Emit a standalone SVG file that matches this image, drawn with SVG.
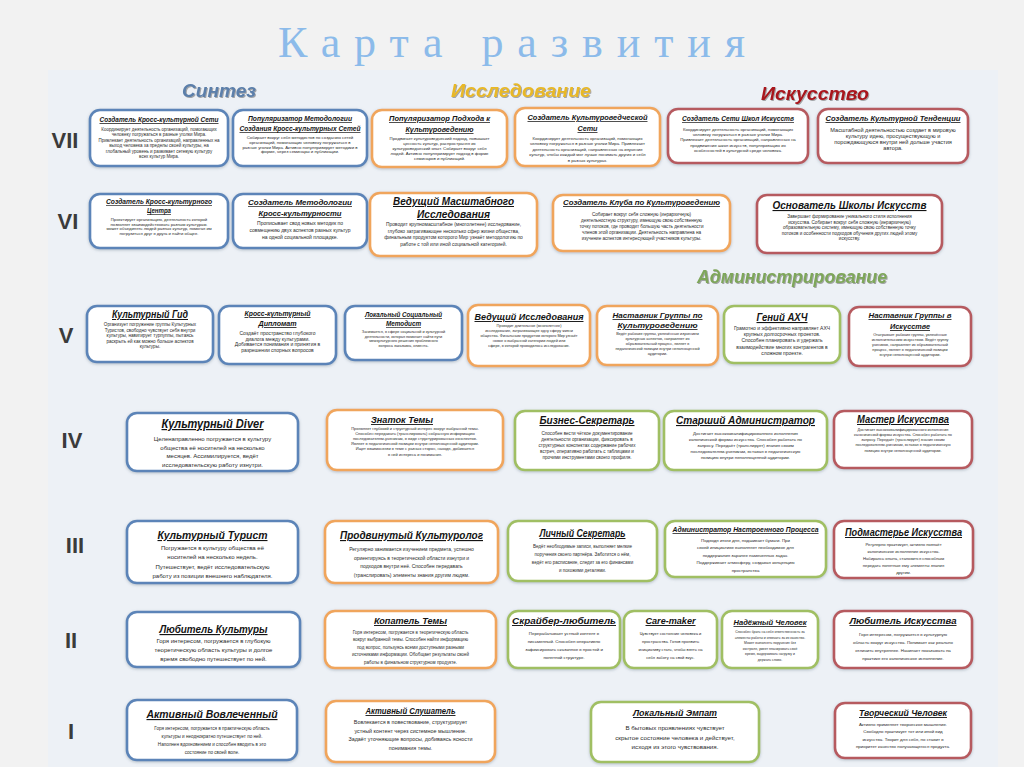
<svg xmlns="http://www.w3.org/2000/svg" width="1024" height="767" viewBox="0 0 1024 767">
<defs>
<filter id="sh" x="-10%" y="-10%" width="120%" height="130%"><feDropShadow dx="0" dy="1" stdDeviation="1.4" flood-color="#6f8090" flood-opacity="0.45"/></filter>
<filter id="hs" x="-10%" y="-20%" width="120%" height="150%"><feDropShadow dx="1" dy="1" stdDeviation="0.6" flood-color="#555" flood-opacity="0.5"/></filter>
<style>
.bx{fill:#fff;stroke-width:2.6;filter:url(#sh)}
.c1{stroke:#5b84b8}.c2{stroke:#f0a55c}.c3{stroke:#a0bf63}.c4{stroke:#b65a5f}
.tt{font-family:"Liberation Sans",Arial,sans-serif;font-style:italic;font-weight:bold;text-decoration:underline;fill:#141414;text-anchor:middle}
.bd{font-family:"Liberation Sans",Arial,sans-serif;fill:#2a2a2a;text-anchor:middle}
.rn{font-family:"Liberation Sans",Arial,sans-serif;font-weight:bold;font-size:22px;fill:#3b3b3b;text-anchor:middle}
.hd{font-family:"Liberation Sans",Arial,sans-serif;font-style:italic;font-weight:bold;text-anchor:middle;filter:url(#hs)}
</style>
</defs>
<rect x="0" y="0" width="1024" height="767" fill="#f2f2f2"/>
<rect x="48" y="70" width="950" height="697" fill="#edf1f6"/>
<text x="278" y="57" textLength="467" lengthAdjust="spacing" font-family="Liberation Serif, serif" font-size="44" fill="#8cbbea">Карта развития</text>

<g id="headers">
<text class="hd" x="219" y="97" font-size="18" fill="#5b7faa" textLength="74" lengthAdjust="spacingAndGlyphs">Синтез</text>
<text class="hd" x="521" y="97" font-size="18" fill="#e8b828" textLength="140" lengthAdjust="spacingAndGlyphs">Исследование</text>
<text class="hd" x="815" y="100" font-size="18" fill="#a8141c" textLength="108" lengthAdjust="spacingAndGlyphs">Искусство</text>
<text class="hd" x="792" y="283" font-size="18" fill="#7ea65a" textLength="190" lengthAdjust="spacingAndGlyphs">Администрирование</text>
</g>

<g id="levels">
<text class="rn" x="65" y="148">VII</text>
<text class="rn" x="68" y="229">VI</text>
<text class="rn" x="66" y="343">V</text>
<text class="rn" x="72" y="448">IV</text>
<text class="rn" x="75" y="553">III</text>
<text class="rn" x="71" y="648">II</text>
<text class="rn" x="71" y="739">I</text>
</g>

<g id="connectors"/>

<!-- Row VII -->
<g id="n-vii-1">
<rect class="bx c1" x="90" y="110" width="138" height="56" rx="10"/>
<text class="tt" x="159" y="122" font-size="7.5" textLength="119" lengthAdjust="spacingAndGlyphs">Создатель Кросс-культурной Сети</text>
<text class="bd" font-size="4.5"><tspan x="159" y="131">Координирует деятельность организаций, помогающих</tspan><tspan x="159" y="136.4">человеку погружаться в разные уголки Мира.</tspan><tspan x="159" y="141.8">Привлекает деятельность организаций, направленных на</tspan><tspan x="159" y="147.2">выход человека за пределы своей культуры, на</tspan><tspan x="159" y="152.6">глобальный уровень и развивает сетевую культуру</tspan><tspan x="159" y="158">всех культур Мира.</tspan></text>
</g>
<g id="n-vii-2">
<rect class="bx c1" x="233" y="110" width="134" height="56" rx="10"/>
<text class="tt" x="300" y="121" font-size="7" textLength="104" lengthAdjust="spacingAndGlyphs">Популяризатор Методологии</text>
<text class="tt" x="300" y="131" font-size="7" textLength="121" lengthAdjust="spacingAndGlyphs">Создания Кросс-культурных Сетей</text>
<text class="bd" font-size="4.3"><tspan x="300" y="139">Собирает вокруг себя методистов по созданию сетей</tspan><tspan x="300" y="143.8">организаций, помогающих человеку погружаться в</tspan><tspan x="300" y="148.6">разные уголки Мира. Активно популяризирует методики в</tspan><tspan x="300" y="153.4">форме, через семинары и публикации.</tspan></text>
</g>
<g id="n-vii-3">
<rect class="bx c2" x="372" y="110" width="135" height="57" rx="10"/>
<text class="tt" x="439.5" y="121" font-size="7.5" textLength="101" lengthAdjust="spacingAndGlyphs">Популяризатор Подхода к</text>
<text class="tt" x="439.5" y="132" font-size="7.5" textLength="68" lengthAdjust="spacingAndGlyphs">Культуроведению</text>
<text class="bd" font-size="4.3"><tspan x="439.5" y="140">Продвигает культуроведческий подход, повышает</tspan><tspan x="439.5" y="145">ценность культур, распространяя их</tspan><tspan x="439.5" y="150">культуроведческий опыт. Собирает вокруг себя</tspan><tspan x="439.5" y="155">людей. Активно популяризирует подход в форме</tspan><tspan x="439.5" y="160">семинаров и публикаций.</tspan></text>
</g>
<g id="n-vii-4">
<rect class="bx c2" x="515" y="108" width="145" height="58" rx="10"/>
<text class="tt" x="587.5" y="120" font-size="7.5" textLength="120" lengthAdjust="spacingAndGlyphs">Создатель Культуроведческой</text>
<text class="tt" x="587.5" y="131" font-size="7.5" textLength="20" lengthAdjust="spacingAndGlyphs">Сети</text>
<text class="bd" font-size="4.3"><tspan x="587.5" y="139.5">Координирует деятельность организаций, помогающих</tspan><tspan x="587.5" y="145">человеку погружаться в разные уголки Мира. Привлекает</tspan><tspan x="587.5" y="150.5">деятельность организаций, направленных на изучение</tspan><tspan x="587.5" y="156">культур, чтобы каждый мог лучше понимать других и себя</tspan><tspan x="587.5" y="161.5">в разных культурах.</tspan></text>
</g>
<g id="n-vii-5">
<rect class="bx c4" x="668" y="109" width="140" height="54" rx="10"/>
<text class="tt" x="738" y="121" font-size="7" textLength="112" lengthAdjust="spacingAndGlyphs">Создатель Сети Школ Искусств</text>
<text class="bd" font-size="4.3"><tspan x="738" y="131">Координирует деятельность организаций, помогающих</tspan><tspan x="738" y="136">человеку погружаться в разные уголки Мира.</tspan><tspan x="738" y="141">Привлекает деятельность организаций, направленных на</tspan><tspan x="738" y="146.5">продвижение школ искусств, популяризацию их</tspan><tspan x="738" y="152">особенностей в культурной среде человека.</tspan></text>
</g>
<g id="n-vii-6">
<rect class="bx c4" x="818" y="109" width="150" height="54" rx="10"/>
<text class="tt" x="893" y="121" font-size="8" textLength="135" lengthAdjust="spacingAndGlyphs">Создатель Культурной Тенденции</text>
<text class="bd" font-size="5.6"><tspan x="893" y="132">Масштабной деятельностью создает в мировую</tspan><tspan x="893" y="138">культуру идею, просуществующую и</tspan><tspan x="893" y="144">порождающуюся внутри ней дольше участия</tspan><tspan x="893" y="150">автора.</tspan></text>
</g>

<!-- Row VI -->
<g id="n-vi-1">
<rect class="bx c1" x="90" y="194" width="138" height="54" rx="10"/>
<text class="tt" x="159" y="204" font-size="6.5" textLength="106" lengthAdjust="spacingAndGlyphs">Создатель Кросс-культурного</text>
<text class="tt" x="159" y="213" font-size="6.5" textLength="24" lengthAdjust="spacingAndGlyphs">Центра</text>
<text class="bd" font-size="4.2"><tspan x="159" y="221">Проектирует организацию, деятельность которой</tspan><tspan x="159" y="225.5">позволяет взаимодействовать разным культурам.</tspan><tspan x="159" y="230">может объединять людей разных культур, помогая им</tspan><tspan x="159" y="234.5">погрузиться друг в друга и найти общее.</tspan></text>
</g>
<g id="n-vi-2">
<rect class="bx c1" x="233" y="194" width="134" height="54" rx="10"/>
<text class="tt" x="300" y="205" font-size="7" textLength="104" lengthAdjust="spacingAndGlyphs">Создатель Методологии</text>
<text class="tt" x="300" y="216" font-size="7" textLength="83" lengthAdjust="spacingAndGlyphs">Кросс-культурности</text>
<text class="bd" font-size="5"><tspan x="300" y="225">Прописывает свод новых методик по</tspan><tspan x="300" y="232">совмещению двух аспектов разных культур</tspan><tspan x="300" y="239">на одной социальной площадке.</tspan></text>
</g>
<g id="n-vi-3">
<rect class="bx c2" x="370" y="193" width="167" height="63" rx="10"/>
<text class="tt" x="453.5" y="205" font-size="10" textLength="121" lengthAdjust="spacingAndGlyphs">Ведущий Масштабного</text>
<text class="tt" x="453.5" y="218" font-size="10" textLength="73" lengthAdjust="spacingAndGlyphs">Исследования</text>
<text class="bd" font-size="4.9"><tspan x="453.5" y="226">Проводит крупномасштабное (многолетнее) исследование,</tspan><tspan x="453.5" y="232.5">глубоко затрагивающее несколько сфер жизни общества,</tspan><tspan x="453.5" y="239">финальным продуктом которого Мир узнаёт методологию по</tspan><tspan x="453.5" y="245.5">работе с той или иной социальной категорией.</tspan></text>
</g>
<g id="n-vi-4">
<rect class="bx c2" x="553" y="195" width="177" height="56" rx="10"/>
<text class="tt" x="641.5" y="205" font-size="8" textLength="157" lengthAdjust="spacingAndGlyphs">Создатель Клуба по  Культуроведению</text>
<text class="bd" font-size="4.6"><tspan x="641.5" y="215.5">Собирает вокруг себя сложную (иерархичную)</tspan><tspan x="641.5" y="221.5">деятельностную структуру, имеющую свою собственную</tspan><tspan x="641.5" y="227.5">точку потоков, где проводит большую часть деятельности</tspan><tspan x="641.5" y="233.5">членов этой организации. Деятельность направлена на</tspan><tspan x="641.5" y="239.5">изучение аспектов интересующей участников культуры.</tspan></text>
</g>
<g id="n-vi-5">
<rect class="bx c4" x="757" y="195" width="185" height="58" rx="10"/>
<text class="tt" x="849.5" y="209" font-size="11" textLength="154" lengthAdjust="spacingAndGlyphs">Основатель Школы Искусств</text>
<text class="bd" font-size="4.6"><tspan x="849.5" y="218">Завершает формирование уникального стиля исполнения</tspan><tspan x="849.5" y="223.5">искусства. Собирает вокруг себя сложную (иерархичную)</tspan><tspan x="849.5" y="229">образовательную систему, имеющую свою собственную точку</tspan><tspan x="849.5" y="234.5">потоков и особенности подходов обучения других людей этому</tspan><tspan x="849.5" y="240">искусству.</tspan></text>
</g>

<!-- Row V -->
<g id="n-v-1">
<rect class="bx c1" x="87" y="306" width="126" height="56" rx="10"/>
<text class="tt" x="150" y="318" font-size="10" textLength="76" lengthAdjust="spacingAndGlyphs">Культурный Гид</text>
<text class="bd" font-size="4.6"><tspan x="150" y="326">Организует погружение группы Культурных</tspan><tspan x="150" y="331.5">Туристов, свободно чувствует себя внутри</tspan><tspan x="150" y="337">культуры, навигирует турпуппы, пытаясь</tspan><tspan x="150" y="342.5">раскрыть ей как можно больше аспектов</tspan><tspan x="150" y="348">культуры.</tspan></text>
</g>
<g id="n-v-2">
<rect class="bx c1" x="219" y="306" width="117" height="58" rx="10"/>
<text class="tt" x="277.5" y="316" font-size="8" textLength="66" lengthAdjust="spacingAndGlyphs">Кросс-культурный</text>
<text class="tt" x="277.5" y="326" font-size="8" textLength="38" lengthAdjust="spacingAndGlyphs">Дипломат</text>
<text class="bd" font-size="5"><tspan x="277.5" y="335">Создаёт пространство глубокого</tspan><tspan x="277.5" y="340.5">диалога между культурами.</tspan><tspan x="277.5" y="346">Добивается понимания и принятия в</tspan><tspan x="277.5" y="351.5">разрешении спорных вопросов</tspan></text>
</g>
<g id="n-v-3">
<rect class="bx c1" x="345" y="306" width="117" height="54" rx="10"/>
<text class="tt" x="403.5" y="317" font-size="6.5" textLength="77" lengthAdjust="spacingAndGlyphs">Локальный Социальный</text>
<text class="tt" x="403.5" y="326" font-size="6.5" textLength="35" lengthAdjust="spacingAndGlyphs">Методист</text>
<text class="bd" font-size="3.8"><tspan x="403.5" y="333">Занимается, в сфере социальной и культурной</tspan><tspan x="403.5" y="337.5">деятельности, которая помогает найти пути</tspan><tspan x="403.5" y="342">межкультурного решения проблемного</tspan><tspan x="403.5" y="346.5">вопроса заказчика, клиента.</tspan></text>
</g>
<g id="n-v-4">
<rect class="bx c2" x="468" y="305" width="122" height="61" rx="10"/>
<text class="tt" x="529" y="320" font-size="9.5" textLength="109" lengthAdjust="spacingAndGlyphs">Ведущий Исследования</text>
<text class="bd" font-size="3.8"><tspan x="529" y="327">Проводит длительное (многолетнее)</tspan><tspan x="529" y="332">исследование, затрагивающее одну сферу жизни</tspan><tspan x="529" y="337">общества. Финальным продуктом которого Мир узнаёт</tspan><tspan x="529" y="342">новое о выбранной категории людей или</tspan><tspan x="529" y="347">сфере, в которой проводилось исследование.</tspan></text>
</g>
<g id="n-v-5">
<rect class="bx c2" x="597" y="306" width="121" height="59" rx="10"/>
<text class="tt" x="657.5" y="318" font-size="8" textLength="90" lengthAdjust="spacingAndGlyphs">Наставник Группы по</text>
<text class="tt" x="657.5" y="328" font-size="8" textLength="80" lengthAdjust="spacingAndGlyphs">Культуроведению</text>
<text class="bd" font-size="3.8"><tspan x="657.5" y="335">Ведёт рабочие группы, увлечённые изучением</tspan><tspan x="657.5" y="340">культурных аспектов, направляет их</tspan><tspan x="657.5" y="345">образовательный процесс, являет в</tspan><tspan x="657.5" y="350">педагогической позиции внутри неполноценной</tspan><tspan x="657.5" y="355">аудитории.</tspan></text>
</g>
<g id="n-v-6">
<rect class="bx c3" x="724" y="306" width="116" height="57" rx="10"/>
<text class="tt" x="782" y="321" font-size="11" textLength="51" lengthAdjust="spacingAndGlyphs">Гений АХЧ</text>
<text class="bd" font-size="5"><tspan x="782" y="330">Грамотно и эффективно направляет АХЧ</tspan><tspan x="782" y="336.2">крупных долгосрочных проектов.</tspan><tspan x="782" y="342.4">Способен планировать и удержать</tspan><tspan x="782" y="348.6">взаимодействие многих контрагентов в</tspan><tspan x="782" y="354.8">сложном проекте.</tspan></text>
</g>
<g id="n-v-7">
<rect class="bx c4" x="849" y="307" width="122" height="59" rx="10"/>
<text class="tt" x="910" y="318" font-size="8" textLength="83" lengthAdjust="spacingAndGlyphs">Наставник Группы в</text>
<text class="tt" x="910" y="329" font-size="8" textLength="40" lengthAdjust="spacingAndGlyphs">Искусстве</text>
<text class="bd" font-size="3.8"><tspan x="910" y="336">Отыгрывает рабочие группы, увлечённые</tspan><tspan x="910" y="341">исполнительским искусством. Ведёт группу</tspan><tspan x="910" y="346">учеников, направляет их образовательный</tspan><tspan x="910" y="351">процесс, являет в педагогической позиции</tspan><tspan x="910" y="356">внутри неполноценной аудитории.</tspan></text>
</g>

<!-- Row IV -->
<g id="n-iv-1">
<rect class="bx c1" x="127" y="413" width="171" height="58" rx="10"/>
<text class="tt" x="212.5" y="428" font-size="12" textLength="102" lengthAdjust="spacingAndGlyphs">Культурный  Diver</text>
<text class="bd" font-size="6"><tspan x="212.5" y="441">Целенаправленно погружается в культуру</tspan><tspan x="212.5" y="449.5">общества её носителей  на несколько</tspan><tspan x="212.5" y="458">месяцев. Ассимилируется,  ведёт</tspan><tspan x="212.5" y="466.5">исследовательскую работу изнутри.</tspan></text>
</g>
<g id="n-iv-2">
<rect class="bx c2" x="327" y="410" width="176" height="60" rx="10"/>
<text class="tt" x="402" y="423" font-size="9" textLength="62" lengthAdjust="spacingAndGlyphs">Знаток Темы</text>
<text class="bd" font-size="4"><tspan x="415" y="430">Проявляет глубокий и структурный интерес вокруг выбранной темы.</tspan><tspan x="415" y="435">Способен передавать (транслировать) собранную информацию</tspan><tspan x="415" y="440">последователям-ученикам, в виде структурированных конспектов.</tspan><tspan x="415" y="445">Являет в педагогической позиции внутри неполноценной аудитории.</tspan><tspan x="415" y="450">Ищет взаимосвязи в теме с разных сторон, находя, добивается</tspan><tspan x="415" y="456">в ней интереса и понимания.</tspan></text>
</g>
<g id="n-iv-3">
<rect class="bx c3" x="515" y="411" width="144" height="59" rx="10"/>
<text class="tt" x="587" y="424" font-size="10.5" textLength="95" lengthAdjust="spacingAndGlyphs">Бизнес-Секретарь</text>
<text class="bd" font-size="4.6"><tspan x="587" y="435">Способен вести чёткое документирование</tspan><tspan x="587" y="441">деятельности организации, фиксировать в</tspan><tspan x="587" y="447">структурных конспектах содержание рабочих</tspan><tspan x="587" y="453">встреч, оперативно работать с таблицами и</tspan><tspan x="587" y="459">прочими инструментами своего профиля.</tspan></text>
</g>
<g id="n-iv-4">
<rect class="bx c3" x="664" y="411" width="163" height="59" rx="10"/>
<text class="tt" x="745.5" y="424" font-size="11" textLength="139" lengthAdjust="spacingAndGlyphs">Старший  Администратор</text>
<text class="bd" font-size="4.4"><tspan x="745.5" y="435">Достигает высококвалифицированного исполнения</tspan><tspan x="745.5" y="441">канонической формы искусства. Способен работать по</tspan><tspan x="745.5" y="447">запросу. Передаёт (транслирует) знания своим</tspan><tspan x="745.5" y="453">последователям-ученикам, вставая в педагогическую</tspan><tspan x="745.5" y="459">позицию внутри неполноценной аудитории.</tspan></text>
</g>
<g id="n-iv-5">
<rect class="bx c4" x="834" y="411" width="138" height="57" rx="10"/>
<text class="tt" x="903" y="423" font-size="10" textLength="92" lengthAdjust="spacingAndGlyphs">Мастер Искусства</text>
<text class="bd" font-size="3.8"><tspan x="903" y="431">Достигает высококвалифицированного исполнения</tspan><tspan x="903" y="436">канонической формы искусства. Способен работать по</tspan><tspan x="903" y="441">запросу. Передаёт (транслирует) знания своим</tspan><tspan x="903" y="446">последователям-ученикам, вставая в педагогическую</tspan><tspan x="903" y="451.5">позицию внутри неполноценной аудитории.</tspan></text>
</g>

<!-- Row III -->
<g id="n-iii-1">
<rect class="bx c1" x="127" y="521" width="171" height="62" rx="10"/>
<text class="tt" x="212.5" y="539" font-size="11" textLength="110" lengthAdjust="spacingAndGlyphs">Культурный Турист</text>
<text class="bd" font-size="6"><tspan x="212.5" y="549.5">Погружается в культуру общества её</tspan><tspan x="212.5" y="559">носителей на несколько недель.</tspan><tspan x="212.5" y="568.5">Путешествует, ведёт исследовательскую</tspan><tspan x="212.5" y="578">работу из позиции внешнего наблюдателя.</tspan></text>
</g>
<g id="n-iii-2">
<rect class="bx c2" x="325" y="521" width="173" height="62" rx="10"/>
<text class="tt" x="411.5" y="539" font-size="11.5" textLength="143" lengthAdjust="spacingAndGlyphs">Продвинутый Культуролог</text>
<text class="bd" font-size="5"><tspan x="411.5" y="551">Регулярно занимается изучением предмета, успешно</tspan><tspan x="411.5" y="559.5">ориентируясь в теоретической области изнутри и</tspan><tspan x="411.5" y="568">подходов внутри неё. Способен передавать</tspan><tspan x="411.5" y="576.5">(транслировать) элементы знания другим людям.</tspan></text>
</g>
<g id="n-iii-3">
<rect class="bx c3" x="508" y="521" width="149" height="60" rx="10"/>
<text class="tt" x="582.5" y="537" font-size="10" textLength="86" lengthAdjust="spacingAndGlyphs">Личный  Секретарь</text>
<text class="bd" font-size="4.5"><tspan x="582.5" y="548">Ведёт необходимые записи, выполняет мелкие</tspan><tspan x="582.5" y="556">поручения своего партнёра. Заботится о нём,</tspan><tspan x="582.5" y="564">ведёт его расписание, следит за его финансами</tspan><tspan x="582.5" y="572">и похожими деталями.</tspan></text>
</g>
<g id="n-iii-4">
<rect class="bx c3" x="665" y="521" width="161" height="56" rx="10"/>
<text class="tt" x="745.5" y="532" font-size="7.5" textLength="146" lengthAdjust="spacingAndGlyphs">Администратор  Настроенного  Процесса</text>
<text class="bd" font-size="4.4"><tspan x="745.5" y="541.5">Подводя итоги дня, подшивает бумаги. При</tspan><tspan x="745.5" y="549">своей инициативе выполняет необходимое для</tspan><tspan x="745.5" y="556.5">поддержания заранее намеченных задач.</tspan><tspan x="745.5" y="564">Поддерживает атмосферу, создавая концепцию</tspan><tspan x="745.5" y="571.5">пространства</tspan></text>
</g>
<g id="n-iii-5">
<rect class="bx c4" x="834" y="521" width="139" height="57" rx="10"/>
<text class="tt" x="903.5" y="536" font-size="10" textLength="117" lengthAdjust="spacingAndGlyphs">Подмастерье Искусства</text>
<text class="bd" font-size="4.2"><tspan x="903.5" y="545.5">Регулярно практикует, активно познаёт</tspan><tspan x="903.5" y="552.5">каноническое исполнение искусства.</tspan><tspan x="903.5" y="559.5">Набираясь опыта, становится способным</tspan><tspan x="903.5" y="566.5">передать понятные ему элементы знания</tspan><tspan x="903.5" y="573.5">другим.</tspan></text>
</g>

<!-- Row II -->
<g id="n-ii-1">
<rect class="bx c1" x="127" y="612" width="173" height="55" rx="10"/>
<text class="tt" x="213.5" y="633" font-size="11.5" textLength="108" lengthAdjust="spacingAndGlyphs">Любитель Культуры</text>
<text class="bd" font-size="6"><tspan x="213.5" y="643">Горя интересом,  погружается в глубокую</tspan><tspan x="213.5" y="652">теоретическую область культуры и долгое</tspan><tspan x="213.5" y="661">время свободно  путешествует по ней.</tspan></text>
</g>
<g id="n-ii-2">
<rect class="bx c2" x="325" y="611" width="171" height="57" rx="10"/>
<text class="tt" x="410.5" y="624" font-size="9.5" textLength="73" lengthAdjust="spacingAndGlyphs">Копатель Темы</text>
<text class="bd" font-size="4.5"><tspan x="410.5" y="633.5">Горя интересом, погружается в теоретическую область</tspan><tspan x="410.5" y="641">вокруг выбранной темы. Способен найти информацию</tspan><tspan x="410.5" y="648.5">под вопрос, пользуясь всеми доступными разными</tspan><tspan x="410.5" y="656">источниками информации. Обобщает результаты своей</tspan><tspan x="410.5" y="663.5">работы в финальном структурном продукте.</tspan></text>
</g>
<g id="n-ii-3">
<rect class="bx c3" x="508" y="611" width="112" height="57" rx="10"/>
<text class="tt" x="564" y="624" font-size="9.5" textLength="104" lengthAdjust="spacingAndGlyphs">Скрайбер-любитель</text>
<text class="bd" font-size="4.4"><tspan x="564" y="635">Перерабатывает устный контент в</tspan><tspan x="564" y="643">письменный. Способен оперативно</tspan><tspan x="564" y="651">зафиксировать сказанное в простой и</tspan><tspan x="564" y="659">понятной структуре.</tspan></text>
</g>
<g id="n-ii-4">
<rect class="bx c3" x="624" y="611" width="93" height="57" rx="10"/>
<text class="tt" x="670.5" y="624" font-size="9.5" textLength="50" lengthAdjust="spacingAndGlyphs">Care-maker</text>
<text class="bd" font-size="4.1"><tspan x="670.5" y="635">Чувствует состояние человека и</tspan><tspan x="670.5" y="643">пространства. Готов проявить</tspan><tspan x="670.5" y="651">инициативу стать, чтобы взять на</tspan><tspan x="670.5" y="659">себя заботу на свой вкус.</tspan></text>
</g>
<g id="n-ii-5">
<rect class="bx c3" x="722" y="611" width="96" height="57" rx="10"/>
<text class="tt" x="770" y="625" font-size="8" textLength="73" lengthAdjust="spacingAndGlyphs">Надёжный  Человек</text>
<text class="bd" font-size="3.4"><tspan x="770" y="633">Способен брать на себя ответственность за</tspan><tspan x="770" y="638.5">элементы работы и отвечать за их качество.</tspan><tspan x="770" y="644">Может выполнять поручения без</tspan><tspan x="770" y="649.5">контроля, умеет планировать своё</tspan><tspan x="770" y="655">время, выдерживать нагрузку и</tspan><tspan x="770" y="660.5">держать слово.</tspan></text>
</g>
<g id="n-ii-6">
<rect class="bx c4" x="834" y="611" width="138" height="57" rx="10"/>
<text class="tt" x="903" y="624" font-size="9" textLength="107" lengthAdjust="spacingAndGlyphs">Любитель Искусства</text>
<text class="bd" font-size="4.4"><tspan x="903" y="636">Горя интересом, погружается в культурную</tspan><tspan x="903" y="644">область вокруг искусства. Понимает как реально</tspan><tspan x="903" y="652">отличить внутреннее. Начинает показывать на</tspan><tspan x="903" y="660">практике его каноническое исполнение.</tspan></text>
</g>

<!-- Row I -->
<g id="n-i-1">
<rect class="bx c1" x="127" y="700" width="170" height="60" rx="10"/>
<text class="tt" x="212" y="718" font-size="11.5" textLength="131" lengthAdjust="spacingAndGlyphs">Активный Вовлеченный</text>
<text class="bd" font-size="4.6"><tspan x="212" y="730">Горя интересом, погружается в практическую область</tspan><tspan x="212" y="738">культуры и неоднократно путешествует по ней.</tspan><tspan x="212" y="746">Наполнен вдохновением и способен вводить в это</tspan><tspan x="212" y="754">состояние по своей воле.</tspan></text>
</g>
<g id="n-i-2">
<rect class="bx c2" x="326" y="701" width="169" height="61" rx="10"/>
<text class="tt" x="410.5" y="714" font-size="9" textLength="90" lengthAdjust="spacingAndGlyphs">Активный Слушатель</text>
<text class="bd" font-size="5.4"><tspan x="410.5" y="724">Вовлекается в повествование, структурирует</tspan><tspan x="410.5" y="732.5">устный контент через системное  мышление.</tspan><tspan x="410.5" y="741">Задаёт уточняющие вопросы, добиваясь ясности</tspan><tspan x="410.5" y="749.5">понимания темы.</tspan></text>
</g>
<g id="n-i-3">
<rect class="bx c3" x="591" y="702" width="168" height="60" rx="10"/>
<text class="tt" x="675" y="716" font-size="9.5" textLength="84" lengthAdjust="spacingAndGlyphs">Локальный Эмпат</text>
<text class="bd" font-size="6.2"><tspan x="675" y="729.5">В бытовых проявлениях чувствует</tspan><tspan x="675" y="739.5">скрытое состояние человека  и действует,</tspan><tspan x="675" y="749">исходя из этого чувствования.</tspan></text>
</g>
<g id="n-i-4">
<rect class="bx c4" x="835" y="703" width="136" height="55" rx="10"/>
<text class="tt" x="903" y="716" font-size="9" textLength="88" lengthAdjust="spacingAndGlyphs">Творческий Человек</text>
<text class="bd" font-size="4.4"><tspan x="903" y="725.5">Активно применяет творческое мышление.</tspan><tspan x="903" y="733">Свободно практикует тот или иной вид</tspan><tspan x="903" y="740.5">искусства. Творит для себя, но ставит в</tspan><tspan x="903" y="748">приоритет качество получающегося продукта.</tspan></text>
</g>
</svg>
